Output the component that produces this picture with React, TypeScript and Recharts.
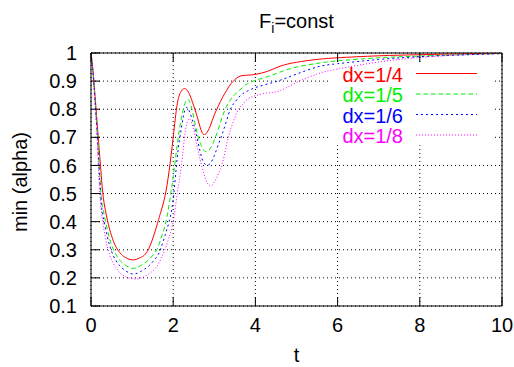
import React from "react";
import { LineChart, Line, XAxis, YAxis, CartesianGrid, ReferenceArea } from "recharts";

// time samples
const tValues = [
  0, 0.05, 0.1, 0.15, 0.2, 0.25, 0.3, 0.4, 0.5, 0.6, 0.7, 0.8, 1.0, 1.2, 1.4, 1.6, 1.7, 1.8, 1.9,
  2.0, 2.1, 2.2, 2.3, 2.4, 2.5, 2.6, 2.7, 2.8, 2.9, 3.0, 3.1, 3.2, 3.3, 3.4, 3.5, 3.6, 3.7, 3.8,
  4.0, 4.3, 4.6, 5.0, 5.5, 6, 7, 8, 9, 10,
];

const dx4 = [
  1, 0.935, 0.845, 0.75, 0.655, 0.565, 0.485, 0.405, 0.35, 0.312, 0.29, 0.276, 0.264, 0.272, 0.302,
  0.385, 0.435, 0.49, 0.58, 0.7, 0.82, 0.865, 0.873, 0.852, 0.812, 0.765, 0.718, 0.713, 0.74, 0.78,
  0.812, 0.842, 0.867, 0.89, 0.905, 0.916, 0.92, 0.921, 0.924, 0.935, 0.953, 0.967, 0.977, 0.983,
  0.99, 0.994, 0.997, 0.999,
];

const dx5 = [
  1, 0.93, 0.83, 0.725, 0.605, 0.49, 0.44, 0.37, 0.318, 0.285, 0.263, 0.249, 0.234, 0.243, 0.264,
  0.3, 0.34, 0.385, 0.46, 0.56, 0.675, 0.77, 0.826, 0.828, 0.77, 0.706, 0.665, 0.649, 0.66, 0.69,
  0.73, 0.775, 0.81, 0.835, 0.852, 0.866, 0.878, 0.89, 0.903, 0.916, 0.932, 0.95, 0.963, 0.972,
  0.983, 0.989, 0.994, 0.998,
];

const dx6 = [
  1, 0.925, 0.825, 0.71, 0.58, 0.465, 0.415, 0.345, 0.295, 0.263, 0.243, 0.23, 0.214, 0.222, 0.242,
  0.275, 0.305, 0.35, 0.4, 0.48, 0.63, 0.735, 0.803, 0.79, 0.745, 0.685, 0.625, 0.602, 0.607, 0.635,
  0.675, 0.715, 0.76, 0.803, 0.825, 0.843, 0.856, 0.864, 0.877, 0.89, 0.903, 0.925, 0.95, 0.962,
  0.977, 0.987, 0.993, 0.998,
];

const dx8 = [
  1, 0.92, 0.82, 0.695, 0.53, 0.44, 0.385, 0.31, 0.265, 0.237, 0.218, 0.207, 0.197, 0.199, 0.213,
  0.24, 0.267, 0.3, 0.345, 0.4, 0.5, 0.6, 0.725, 0.765, 0.725, 0.655, 0.595, 0.547, 0.527, 0.54,
  0.57, 0.61, 0.675, 0.73, 0.77, 0.803, 0.818, 0.835, 0.848, 0.858, 0.866, 0.895, 0.925, 0.943,
  0.968, 0.984, 0.993, 0.998,
];

const xTicks = [0, 2, 4, 6, 8, 10];
const yTicks = [0.1, 0.2, 0.3, 0.4, 0.5, 0.6, 0.7, 0.8, 0.9, 1];

const series = [
  { key: "dx4", name: "dx=1/4", color: "#ff0000", dash: undefined },
  { key: "dx5", name: "dx=1/5", color: "#00f000", dash: "4.5 3" },
  { key: "dx6", name: "dx=1/6", color: "#0000ff", dash: "2 3" },
  { key: "dx8", name: "dx=1/8", color: "#ff00ff", dash: "1 2" },
];

const rows = tValues.map((t, i) => ({ t, dx4: dx4[i], dx5: dx5[i], dx6: dx6[i], dx8: dx8[i] }));

const FONT = '"Liberation Sans", Arial, sans-serif';
const FS = 20;

function KeyBox() {
  return (
    <svg
      width={165}
      height={86}
      style={{ position: "absolute", left: 328, top: 62, pointerEvents: "none" }}
    >
      {series.map((s, k) => (
        <g key={s.key}>
          <text x={75} y={19.7 + k * 20.5} textAnchor="end" fill={s.color} fontSize={FS} fontFamily={FONT}>
            {s.name}
          </text>
          <line
            x1={88}
            x2={149}
            y1={11.5 + k * 20.5}
            y2={11.5 + k * 20.5}
            stroke={s.color}
            strokeWidth={1}
            strokeDasharray={s.dash}
          />
        </g>
      ))}
    </svg>
  );
}

export default function App() {
  return (
    <div style={{ position: "absolute", left: 0, top: 0, width: 514, height: 367, fontFamily: FONT, background: "#fff" }}>
      <LineChart width={514} height={367} data={rows} margin={{ top: 0, right: 0, bottom: 0, left: 0 }}>
        <CartesianGrid xAxisId="b" yAxisId="l" stroke="#000" strokeDasharray="1 3" />
        <ReferenceArea xAxisId="b" yAxisId="l" x1={5.77} x2={9.76} y1={0.672} y2={0.965} fill="#fff" fillOpacity={1} stroke="none" />
        <XAxis
          xAxisId="b"
          dataKey="t"
          type="number"
          domain={[0, 10]}
          ticks={xTicks}
          height={61}
          tickSize={-9}
          tickMargin={21}
          stroke="#000"
          tick={{ fill: "#000", fontSize: FS }}
          label={{ value: "t", position: "insideBottom", offset: 5, fill: "#000", fontSize: FS }}
        />
        <XAxis
          xAxisId="top"
          orientation="top"
          dataKey="t"
          type="number"
          domain={[0, 10]}
          ticks={xTicks}
          height={53}
          tickSize={-9}
          stroke="#000"
          tickFormatter={() => ""}
        />
        <YAxis
          yAxisId="l"
          type="number"
          domain={[0.1, 1]}
          ticks={yTicks}
          width={91}
          tickSize={-9}
          tickMargin={23}
          stroke="#000"
          tick={{ fill: "#000", fontSize: FS }}
          tickFormatter={(v) => String(v)}
        />
        <YAxis
          yAxisId="r"
          orientation="right"
          type="number"
          domain={[0.1, 1]}
          ticks={yTicks}
          width={12}
          tickSize={-9}
          stroke="#000"
          tickFormatter={() => ""}
        />
        {series.map((s) => (
          <Line
            key={s.key}
            xAxisId="b"
            yAxisId="l"
            dataKey={s.key}
            name={s.name}
            type="natural"
            stroke={s.color}
            strokeWidth={1}
            strokeDasharray={s.dash}
            dot={false}
            isAnimationActive={false}
          />
        ))}
      </LineChart>
      <svg width={514} height={367} style={{ position: "absolute", left: 0, top: 0, pointerEvents: "none" }}>
        <text x={296.5} y={28} textAnchor="middle" fontSize={FS} fontFamily={FONT} fill="#000">
          <tspan>F</tspan>
          <tspan fontSize={14} dy={5}>i</tspan>
          <tspan dy={-5}>=const</tspan>
        </text>
        <text
          x={0}
          y={0}
          transform="translate(27 182) rotate(-90)"
          textAnchor="middle"
          fontSize={FS}
          fontFamily={FONT}
          fill="#000"
        >
          min (alpha)
        </text>
      </svg>
      <KeyBox />
    </div>
  );
}
